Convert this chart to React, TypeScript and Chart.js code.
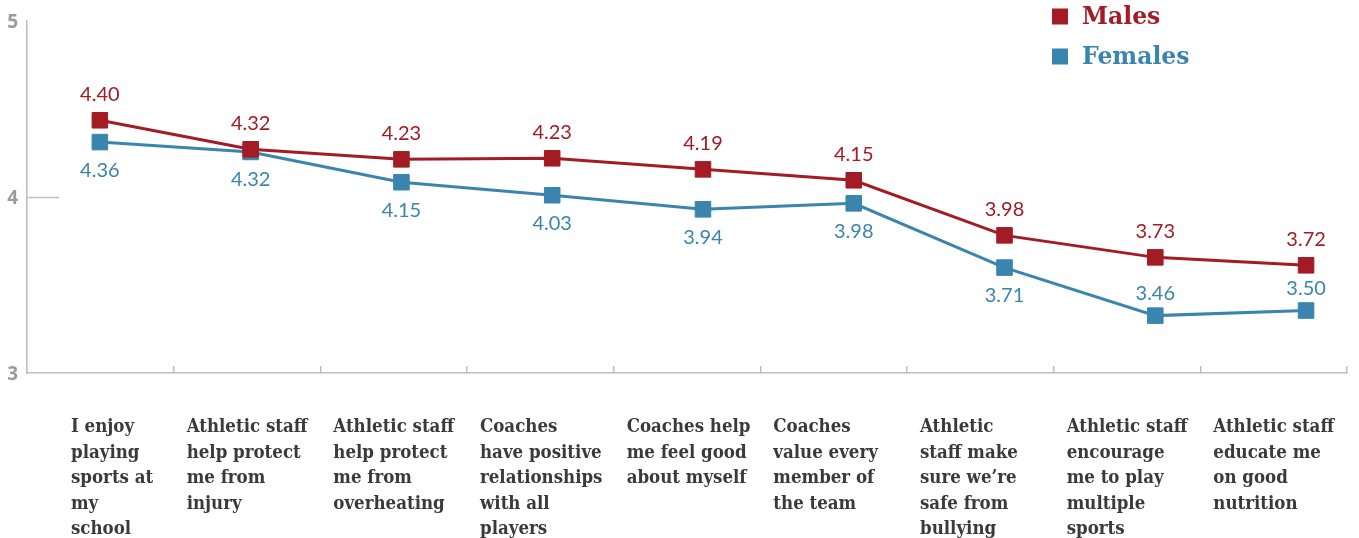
import React, { useEffect, useRef } from 'react';
import { Chart, registerables } from 'chart.js';

Chart.register(...registerables);

const categories: string[][] = [
  ['I enjoy', 'playing', 'sports at', 'my', 'school'],
  ['Athletic staff', 'help protect', 'me from', 'injury'],
  ['Athletic staff', 'help protect', 'me from', 'overheating'],
  ['Coaches', 'have positive', 'relationships', 'with all', 'players'],
  ['Coaches help', 'me feel good', 'about myself'],
  ['Coaches', 'value every', 'member of', 'the team'],
  ['Athletic', 'staff make', 'sure we\u2019re', 'safe from', 'bullying'],
  ['Athletic staff', 'encourage', 'me to play', 'multiple', 'sports'],
  ['Athletic staff', 'educate me', 'on good', 'nutrition'],
];

const seriesNames = ['Males', 'Females'];
const malesValues = [4.436, 4.271, 4.214, 4.22, 4.157, 4.095, 3.782, 3.657, 3.612];
const femalesValues = [4.312, 4.256, 4.084, 4.01, 3.93, 3.964, 3.599, 3.326, 3.355];
const malesLabels = ['4.40', '4.32', '4.23', '4.23', '4.19', '4.15', '3.98', '3.73', '3.72'];
const femalesLabels = ['4.36', '4.32', '4.15', '4.03', '3.94', '3.98', '3.71', '3.46', '3.50'];
const yTickValues = [3, 4, 5];

const RED = '#a31c24';
const BLUE = '#3a85ad';
const AXIS = '#bfbfbf';
const LABEL_FONT = "'DejaVu Serif Condensed', 'DejaVu Serif', serif";

const overlayPlugin = {
  id: 'overlay',
  afterDraw(chart: any) {
    const ctx = chart.ctx;
    const area = chart.chartArea;
    const x2 = chart.scales.x2;
    const y = chart.scales.y;
    const x = chart.scales.x;
    ctx.save();

    // short reference tick at interior y values
    ctx.strokeStyle = AXIS;
    ctx.lineWidth = 1.5;
    yTickValues.forEach((v) => {
      if (v === y.min || v === y.max) return;
      const py = Math.round(y.getPixelForValue(v)) + 0.5;
      ctx.beginPath();
      ctx.moveTo(area.left, py);
      ctx.lineTo(area.left + 32, py);
      ctx.stroke();
    });

    // data labels
    ctx.font = "400 20px Lato, 'Open Sans', sans-serif";
    ctx.textAlign = 'center';
    ctx.textBaseline = 'middle';
    malesValues.forEach((v, i) => {
      const px = x.getPixelForValue(i);
      const py = y.getPixelForValue(v);
      ctx.fillStyle = RED;
      ctx.fillText(malesLabels[i], px, py - 26);
    });
    femalesValues.forEach((v, i) => {
      const px = x.getPixelForValue(i);
      const py = y.getPixelForValue(v);
      const above = malesValues[i] - v > 0.24;
      ctx.fillStyle = BLUE;
      ctx.fillText(femalesLabels[i], px, above ? py - 22 : py + 28);
    });

    // category labels
    ctx.font = `bold 18.5px ${LABEL_FONT}`;
    ctx.textAlign = 'left';
    ctx.textBaseline = 'alphabetic';
    ctx.fillStyle = '#3a3a3a';
    const band = (area.right - area.left) / categories.length;
    categories.forEach((lines, i) => {
      const left = x2.getPixelForValue(i) - band / 2;
      const lx = i === 0 ? left + 44 : left + 13;
      lines.forEach((line, j) => {
        ctx.fillText(line, lx, area.bottom + 59 + j * 25.5);
      });
    });

    // legend
    const legendX = 1052;
    const legendRows = [16.5, 56.5];
    const colors = [RED, BLUE];
    ctx.font = `bold 23.5px 'DejaVu Serif', serif`;
    ctx.textBaseline = 'middle';
    seriesNames.forEach((name, i) => {
      ctx.fillStyle = colors[i];
      ctx.fillRect(legendX, legendRows[i] - 8, 16, 16);
      ctx.fillText(name, legendX + 30, legendRows[i] + 1);
    });

    ctx.restore();
  },
};

export default function App() {
  const canvasRef = useRef<HTMLCanvasElement | null>(null);

  useEffect(() => {
    if (!canvasRef.current) return;
    const chart = new Chart(canvasRef.current, {
      type: 'line',
      data: {
        labels: categories as any,
        datasets: [
          {
            label: seriesNames[0],
            data: malesValues.map((v, i) => ({ x: i, y: v })),
            borderColor: RED,
            backgroundColor: RED,
            borderWidth: 3,
            pointStyle: 'rect',
            pointRadius: 11,
            pointBorderWidth: 1,
            pointBorderColor: RED,
            pointBackgroundColor: RED,
            tension: 0,
            xAxisID: 'x',
            yAxisID: 'y',
          },
          {
            label: seriesNames[1],
            data: femalesValues.map((v, i) => ({ x: i, y: v })),
            borderColor: BLUE,
            backgroundColor: BLUE,
            borderWidth: 3,
            pointStyle: 'rect',
            pointRadius: 11,
            pointBorderWidth: 1,
            pointBorderColor: BLUE,
            pointBackgroundColor: BLUE,
            tension: 0,
            xAxisID: 'x',
            yAxisID: 'y',
          },
        ],
      },
      options: {
        animation: false,
        responsive: true,
        maintainAspectRatio: false,
        layout: { padding: { top: 21, right: 10, left: 0, bottom: 0 } },
        plugins: {
          legend: { display: false },
          tooltip: { enabled: false },
        },
        scales: {
          x: {
            type: 'linear',
            display: false,
            min: -0.4834,
            max: 8.2715,
          },
          x2: {
            type: 'category',
            position: 'bottom',
            offset: true,
            grid: {
              offset: true,
              drawOnChartArea: false,
              drawTicks: true,
              tickLength: -7,
              color: AXIS,
              lineWidth: 1.5,
            },
            border: { color: AXIS, width: 1.5 },
            ticks: { display: false },
            afterFit: (s: any) => {
              s.height = 165;
            },
          },
          y: {
            type: 'linear',
            min: 3,
            max: 5,
            ticks: {
              stepSize: 1,
              color: '#9b9b9b',
              padding: 9,
              labelOffset: 2,
              font: { family: "'Noto Sans', 'Open Sans', sans-serif", weight: 'bold', size: 19 },
            },
            grid: { drawOnChartArea: false, drawTicks: false },
            border: { color: AXIS, width: 1.5 },
            afterFit: (s: any) => {
              s.width = 27;
            },
          },
        },
      },
      plugins: [overlayPlugin],
    });
    return () => chart.destroy();
  }, []);

  return (
    <div style={{ position: 'fixed', left: 0, top: 0, width: 1359, height: 538, background: '#fff' }}>
      <canvas ref={canvasRef} />
    </div>
  );
}
